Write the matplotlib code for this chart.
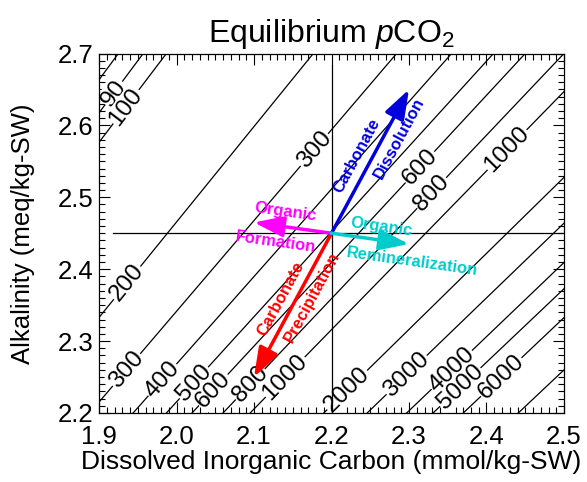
import numpy as np
import matplotlib
matplotlib.use("Agg")
import matplotlib.pyplot as plt
from matplotlib.ticker import MultipleLocator

plt.rcParams['font.family'] = ['Liberation Sans', 'DejaVu Sans']
plt.rcParams['mathtext.fontset'] = 'custom'
plt.rcParams['mathtext.rm'] = 'Liberation Sans'
plt.rcParams['mathtext.it'] = 'Liberation Sans:italic'

# ---- data ----
# pCO2 contour levels (uatm) and the DIC (mmol/kg) where each line meets Alk=2.2 and Alk=2.7
levels = [80, 90, 100, 200, 300, 400, 500, 600, 800, 1000, 2000, 3000, 4000, 5000, 6000, 8000]
dic_at_alk_low = [1.584, 1.612, 1.635, 1.800, 1.888, 1.944, 1.987, 2.020, 2.060, 2.095,
                  2.190, 2.246, 2.297, 2.331, 2.370, 2.441]
dic_at_alk_high = [1.925, 1.957, 1.987, 2.1765, 2.284, 2.355, 2.409, 2.450, 2.500, 2.548,
                   2.663, 2.727, 2.782, 2.820, 2.860, 2.933]
alk_low, alk_high = 2.2, 2.7

# contour labels: level and alkalinity where the label sits on the line
label_levels = [90, 100, 200, 300, 300, 400, 500, 600, 800, 1000, 2000, 3000, 4000, 5000, 6000,
                600, 800, 1000]
label_alk = [2.645, 2.626, 2.381, 2.260, 2.566, 2.246, 2.242, 2.232, 2.240, 2.250, 2.232, 2.253,
             2.260, 2.236, 2.250, 2.542, 2.506, 2.566]

# reference point and process vectors (dDIC, dAlk)
center_dic, center_alk = 2.2, 2.45
proc_names = ['Carbonate Dissolution', 'Carbonate Precipitation', 'Organic Formation',
              'Organic Remineralization']
proc_ddic = [0.1, -0.1, -0.1, 0.1]
proc_dalk = [0.2, -0.2, 0.015, -0.015]
proc_colors = ['#0000dd', '#ff0000', '#ff00ff', '#00cccc']
# text pieces for each process: (text, DIC, Alk)
proc_text = [
    [('Carbonate', 2.233, 2.558), ('Dissolution', 2.288, 2.582)],
    [('Carbonate', 2.135, 2.359), ('Precipitation', 2.175, 2.361)],
    [('Organic', 2.141, 2.480), ('Formation', 2.128, 2.438)],
    [('Organic', 2.264, 2.459), ('Remineralization', 2.304, 2.410)],
]

# cross-hair lines
hline_dic = [1.918, 2.5]
vline_alk = [2.2, 2.684]

xlim = (1.9, 2.5)
ylim = (2.2, 2.7)
xticks = [1.9, 2.0, 2.1, 2.2, 2.3, 2.4, 2.5]
xticklabels = ['1.9', '2.0', '2.1', '2.2', '2.3', '2.4', '2.5']
yticks = [2.2, 2.3, 2.4, 2.5, 2.6, 2.7]
yticklabels = ['2.2', '2.3', '2.4', '2.5', '2.6', '2.7']

# ---- figure ----
fig = plt.figure(figsize=(5.87, 4.82), dpi=100)
ax = fig.add_axes([99/587, 1-413/482, 465/587, 359.5/482])
ax.set_xlim(*xlim)
ax.set_ylim(*ylim)

for lev, d0, d1 in zip(levels, dic_at_alk_low, dic_at_alk_high):
    ax.plot([d0, d1], [alk_low, alk_high], color='black', lw=0.9, zorder=1)

for lev, a in zip(label_levels, label_alk):
    i = levels.index(lev)
    d0, d1 = dic_at_alk_low[i], dic_at_alk_high[i]
    d = d0 + (a - alk_low) * (d1 - d0) / (alk_high - alk_low)
    ang = np.degrees(np.arctan2(alk_high - alk_low, d1 - d0))
    ax.text(d, a, str(lev), fontsize=17.5, ha='center', va='center', rotation=ang,
            rotation_mode='anchor', transform_rotates_text=True, zorder=2,
            bbox=dict(facecolor='white', edgecolor='none', pad=0.5))

ax.plot(hline_dic, [center_alk, center_alk], color='black', lw=0.9, zorder=3)
ax.plot([center_dic, center_dic], vline_alk, color='black', lw=0.9, zorder=3)

for dd, da, col, texts in zip(proc_ddic, proc_dalk, proc_colors, proc_text):
    ax.annotate('', xy=(center_dic + dd, center_alk + da), xytext=(center_dic, center_alk),
                arrowprops=dict(arrowstyle='-|>,head_length=1.0,head_width=0.35', lw=2.5,
                                color=col, shrinkA=0, shrinkB=0, mutation_scale=18),
                zorder=5)
    ang = np.degrees(np.arctan2(da, dd))
    if dd < 0:
        ang = np.degrees(np.arctan2(-da, -dd))
    for t, x, y in texts:
        ax.text(x, y, t, color=col, fontsize=12, fontweight='bold', ha='center', va='center',
                rotation=ang, rotation_mode='anchor', transform_rotates_text=True, zorder=6)

ax.set_xticks(xticks)
ax.set_xticklabels(xticklabels)
ax.set_yticks(yticks)
ax.set_yticklabels(yticklabels)
ax.xaxis.set_minor_locator(MultipleLocator(0.01))
ax.yaxis.set_minor_locator(MultipleLocator(0.01))
ax.tick_params(which='both', direction='in', top=True, right=True, width=0.8, labelsize=18.5)
ax.tick_params(which='major', length=8)
ax.tick_params(which='minor', length=4)
ax.tick_params(axis='x', pad=9)
ax.tick_params(axis='y', pad=4)
for s in ax.spines.values():
    s.set_linewidth(0.9)

ax.set_xlabel('Dissolved Inorganic Carbon (mmol/kg-SW)', fontsize=19, labelpad=0)
ax.set_ylabel('Alkalinity (meq/kg-SW)', fontsize=18.5, labelpad=16)
ax.set_title(r'Equilibrium $\mathit{p}\mathrm{CO}_2$', fontsize=23, pad=8)

fig.savefig('out.png', dpi=100)
